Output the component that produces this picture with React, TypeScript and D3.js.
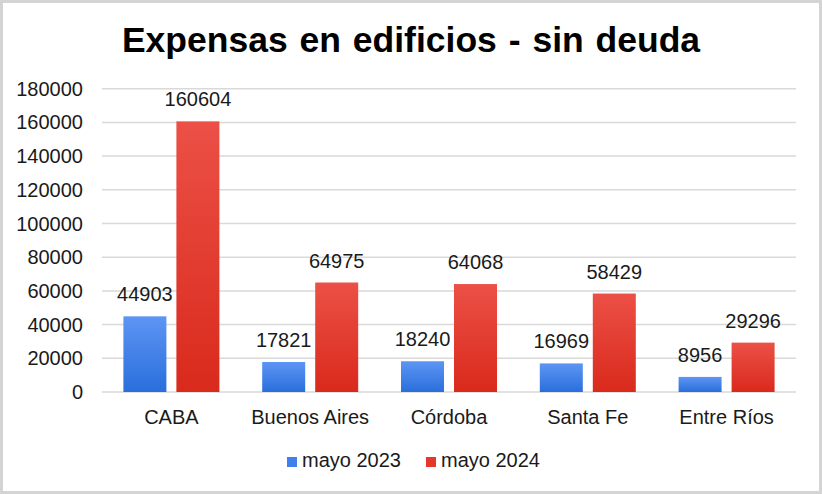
import React from "react";
import * as d3 from "d3";

const categories = ["CABA", "Buenos Aires", "Córdoba", "Santa Fe", "Entre Ríos"];
const series2023 = [44903, 17821, 18240, 16969, 8956];
const series2024 = [160604, 64975, 64068, 58429, 29296];
const seriesNames = ["mayo 2023", "mayo 2024"];
const yTicks = [0, 20000, 40000, 60000, 80000, 100000, 120000, 140000, 160000, 180000];

const W = 822;
const H = 494;
const FONT = "'Liberation Sans', Arial, sans-serif";

export default function App() {
  const x = d3.scaleBand<string>().domain(categories).range([102, 796]);
  const y = d3.scaleLinear().domain([0, 180000]).range([392, 88.7]);
  const barW = 43;
  const gap = 10;
  const fs = 20;
  const series = [
    { name: seriesNames[0], values: series2023, fill: "url(#gBlue)", solid: "#3f80ee" },
    { name: seriesNames[1], values: series2024, fill: "url(#gRed)", solid: "#e5372a" },
  ];
  return (
    <svg width={W} height={H} style={{ position: "absolute", left: 0, top: 0 }} fontFamily={FONT}>
      <defs>
        <linearGradient id="gBlue" x1="0" y1="0" x2="0" y2="1">
          <stop offset="0" stopColor="#5d95f4" />
          <stop offset="1" stopColor="#2a6fdc" />
        </linearGradient>
        <linearGradient id="gRed" x1="0" y1="0" x2="0" y2="1">
          <stop offset="0" stopColor="#ec5046" />
          <stop offset="1" stopColor="#d92a1c" />
        </linearGradient>
      </defs>
      <rect x={1.5} y={1.5} width={W - 3} height={H - 3} fill="#fff" stroke="#d4d4d4" strokeWidth={3} />
      <text x={411} y={52} textAnchor="middle" fontSize={35.5} fontWeight="bold" fill="#000" wordSpacing={2}>
        Expensas en edificios - sin deuda
      </text>
      {yTicks.map((t) => (
        <g key={t}>
          <line x1={102} x2={796} y1={y(t)} y2={y(t)} stroke="#d9d9d9" strokeWidth={1.5} />
          <text x={83} y={y(t) + 7} textAnchor="end" fontSize={fs} fill="#1a1a1a">
            {t}
          </text>
        </g>
      ))}
      {categories.map((c, i) => {
        const cx = (x(c) as number) + x.bandwidth() / 2;
        return (
          <g key={c}>
            {series.map((s, j) => {
              const bx = j === 0 ? cx - gap / 2 - barW : cx + gap / 2;
              const v = s.values[i];
              return (
                <g key={s.name}>
                  <rect x={bx} y={y(v)} width={barW} height={y(0) - y(v)} fill={s.fill} />
                  <text x={bx + barW / 2} y={y(v) - 15} textAnchor="middle" fontSize={fs} fill="#1a1a1a">
                    {v}
                  </text>
                </g>
              );
            })}
            <text x={cx} y={424} textAnchor="middle" fontSize={fs} fill="#1a1a1a">
              {c}
            </text>
          </g>
        );
      })}
      {series.map((s, j) => {
        const lx = j === 0 ? 287 : 426;
        return (
          <g key={s.name}>
            <rect x={lx} y={457} width={10} height={10} fill={s.solid} />
            <text x={lx + 15} y={467} fontSize={fs} fill="#1a1a1a">
              {s.name}
            </text>
          </g>
        );
      })}
    </svg>
  );
}
